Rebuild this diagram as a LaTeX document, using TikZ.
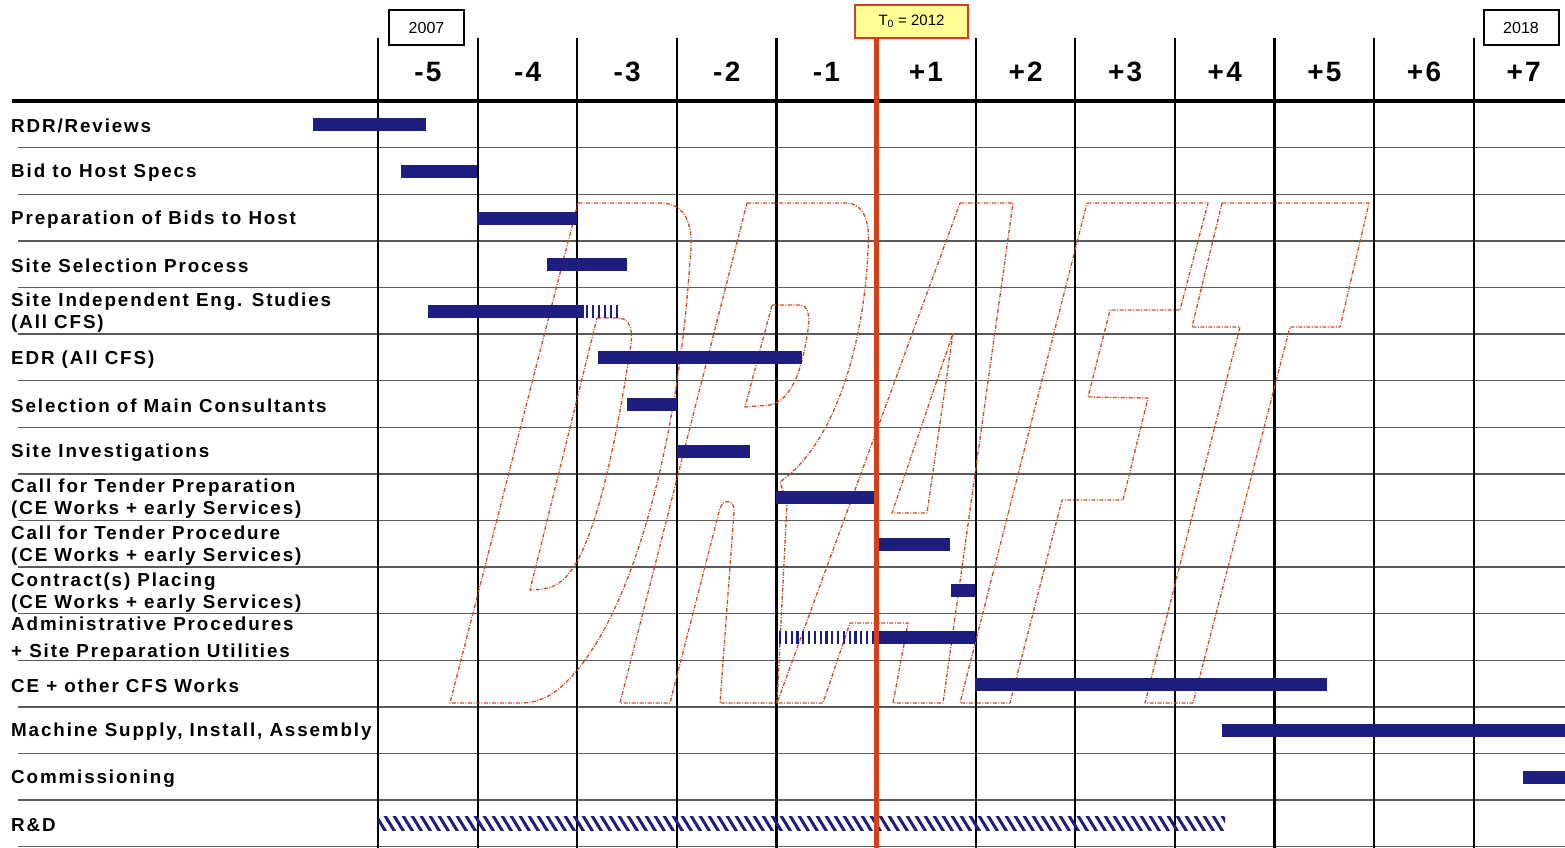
\documentclass[tikz,border=0pt]{standalone}
\usepackage{fontspec}
\setmainfont{Liberation Sans}
\newfontfamily\rowfont[LetterSpace=10]{Liberation Sans}
\newfontfamily\numfont[LetterSpace=8]{Liberation Sans}
\usetikzlibrary{positioning}
\definecolor{barblue}{RGB}{30,30,128}
\definecolor{todayred}{RGB}{214,64,24}
\definecolor{draftred}{RGB}{200,78,38}
\definecolor{notefill}{RGB}{255,255,150}
\definecolor{rowgray}{RGB}{90,90,90}

\begin{document}
\begin{tikzpicture}[x=1pt, y=-1pt,
  rowlabel/.style={anchor=west, inner sep=0pt, align=left, font=\rowfont\bfseries\fontsize{18.8}{22}\selectfont},
  yearnum/.style={inner sep=0pt, font=\numfont\bfseries\fontsize{28}{28}\selectfont},
  yearbox/.style={draw=black, line width=2pt, minimum width=75pt, minimum height=35pt, inner sep=0pt, font=\fontsize{16}{16}\selectfont},
  todaybox/.style={draw=todayred, fill=notefill, line width=2.5pt, minimum width=113pt, minimum height=33pt, inner sep=0pt, font=\fontsize{15}{15}\selectfont},
  gridv/.style={line width=2.2pt},
  gridh/.style={draw=rowgray, line width=1.4pt},
  draftline/.style={draw=draftred, line width=1.3pt, dash pattern=on 4pt off 1.5pt on 1pt off 1.5pt, line join=round},
  todayline/.style={draw=todayred, line width=5pt}
]
  \useasboundingbox (0,0) rectangle (1565,848);
  % Grid: rows and year columns
  \foreach \i in {1,...,16}
    \draw[gridh] (18,101+46.6*\i) -- (1565,101+46.6*\i);
  \foreach \k in {0,...,11}
    \draw[gridv] (378+99.6*\k,38) -- (378+99.6*\k,848);
  \draw[line width=4pt] (12,101) -- (1565,101);
  % Year offsets (header)
  \foreach \lab [count=\k from 0] in {-5,-4,-3,-2,-1,+1,+2,+3,+4,+5,+6,+7}
    \node[yearnum] (c\k) at (428+99.6*\k,72) {\lab};
  \node[yearbox] (y2007) at (426.5,27.5) {2007};
  \node[yearbox] (y2018) at (1521,27.5) {2018};
  % Activities
  \foreach \txt [count=\i] in {RDR/Reviews, Bid to Host Specs, Preparation of Bids to Host,
      Site Selection Process, {Site Independent Eng. Studies\\(All CFS)}, EDR (All CFS),
      Selection of Main Consultants, Site Investigations,
      {Call for Tender Preparation\\(CE Works + early Services)},
      {Call for Tender Procedure\\(CE Works + early Services)},
      {Contract(s) Placing\\(CE Works + early Services)},
      {Administrative Procedures\\[5pt]+ Site Preparation Utilities},
      CE + other CFS Works, {Machine Supply, Install, Assembly}, Commissioning, R\&D}
    \node[rowlabel] (r\i) at (11,79.7+46.6*\i) {\txt};
  % DRAFT watermark
  \draw[draftline] (578,203) -- (660,203) .. controls (688,203) and (694,228) .. (690,260)
    .. controls (680,420) and (640,600) .. (573,675) .. controls (555,695) and (540,703) .. (520,703)
    -- (450,703) -- cycle;
  \draw[draftline] (597,318) -- (618,318) .. controls (630,318) and (634,330) .. (630,350)
    .. controls (615,450) and (595,540) .. (570,572) .. controls (560,586) and (548,590) .. (530,590) -- cycle;
  \draw[draftline] (747,203) -- (845,203) .. controls (866,203) and (870,225) .. (868,250)
    .. controls (865,330) and (840,440) .. (780,482) -- (787,503) -- (777,703) -- (720,703) -- (734,512)
    .. controls (735,500) and (724,498) .. (720,508) -- (670,703) -- (620,703) -- cycle;
  \draw[draftline] (772,305) -- (800,305) .. controls (808,305) and (810,315) .. (808,330)
    .. controls (802,370) and (792,400) .. (770,405) -- (745,407) -- cycle;
  \draw[draftline] (960,203) -- (1013,203) -- (943,703) -- (893,703) -- (908,623) -- (850,623)
    -- (823,703) -- (777,703) -- cycle;
  \draw[draftline] (953,333) -- (927,513) -- (892,513) -- cycle;
  \draw[draftline] (1087,203) -- (1208,203) -- (1180,310) -- (1110,310) -- (1088,397) -- (1148,398)
    -- (1123,500) -- (1062,500) -- (1010,703) -- (960,703) -- cycle;
  \draw[draftline] (1222,203) -- (1369,203) -- (1340,327) -- (1290,327) -- (1193,703) -- (1145,703)
    -- (1240,327) -- (1192,327) -- cycle;
  % Bars
  \foreach \i/\a/\b in {1/313/426, 2/401/477, 3/477/577, 4/547/627, 5/428/584, 6/598/802,
      7/627/677, 8/677/750, 9/776/875, 10/877/950, 11/951/975, 12/876/975,
      13/975/1327, 14/1222/1565, 15/1523/1565}
    \fill[barblue] (\a,71.7+46.6*\i) rectangle (\b,84.7+46.6*\i);
  \foreach \x in {587,593,...,621}
    \fill[barblue] (\x-1.1,304.7) rectangle (\x+1.1,317.7);
  \foreach \x in {780,785.8,...,873}
    \fill[barblue] (\x-1.1,630.9) rectangle (\x+1.1,643.9);
  \begin{scope}
    \clip (378,816) rectangle (1225,830);
    \foreach \x in {366,375,...,1230}
      \draw[barblue, line width=3pt] (\x,814) -- (\x+11,832);
  \end{scope}
  % Today line
  \node[todaybox] (t0) at (911.5,21.5) {T\textsubscript{0} = 2012};
  \coordinate (tzero) at (876,848);
  \draw[todayline] (t0.south -| tzero) -- (tzero);
\end{tikzpicture}
\end{document}
